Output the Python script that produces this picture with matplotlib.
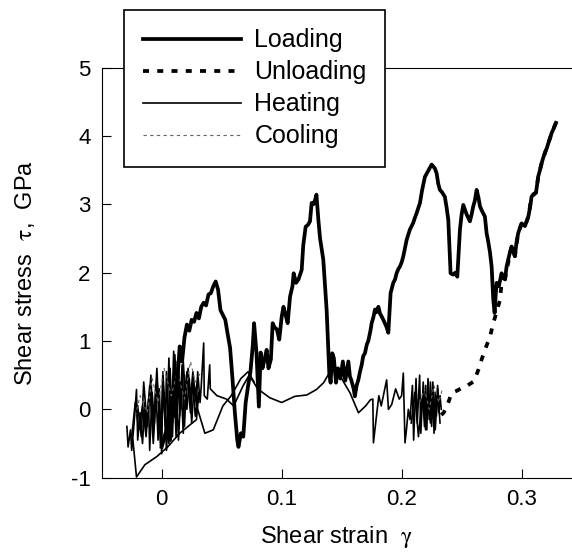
import numpy as np
import matplotlib
matplotlib.use("Agg")
import matplotlib.pyplot as plt

plt.rcParams['font.family'] = ['Liberation Sans', 'DejaVu Sans']
plt.rcParams['mathtext.fontset'] = 'stix'
plt.rcParams['axes.unicode_minus'] = False

# loading branch (thick solid)
load_x = [0.000, 0.004, 0.007, 0.009, 0.011, 0.013, 0.015, 0.017, 0.019, 0.021,
          0.023, 0.025, 0.027, 0.029, 0.031, 0.033, 0.035, 0.037, 0.039, 0.041,
          0.043, 0.045, 0.047, 0.049, 0.051, 0.053, 0.055, 0.057, 0.059, 0.061,
          0.063, 0.064, 0.066, 0.068, 0.070, 0.072, 0.074, 0.076, 0.077, 0.079,
          0.081, 0.0825, 0.084, 0.086, 0.0875, 0.089, 0.091, 0.0925, 0.094, 0.096,
          0.098, 0.100, 0.1015, 0.103, 0.105, 0.107, 0.109, 0.110, 0.112, 0.114,
          0.1167, 0.118, 0.120, 0.122, 0.1236, 0.125, 0.1265, 0.128, 0.129, 0.1306,
          0.132, 0.1347, 0.1375, 0.1397, 0.1408, 0.1422, 0.1435, 0.1453, 0.147, 0.149,
          0.151, 0.153, 0.1556, 0.1569, 0.158, 0.160, 0.161, 0.1625, 0.1639, 0.1653,
          0.1667, 0.168, 0.1694, 0.171, 0.1722, 0.174, 0.175, 0.1765, 0.1778, 0.179,
          0.1806, 0.182, 0.1833, 0.185, 0.186, 0.1875, 0.1889, 0.1908, 0.193, 0.1945,
          0.1958, 0.1972, 0.1986, 0.2, 0.2014, 0.203, 0.2042, 0.2055, 0.2069, 0.2083,
          0.2097, 0.211, 0.2125, 0.214, 0.2153, 0.217, 0.2194, 0.221, 0.2225, 0.224,
          0.225, 0.2265, 0.2278, 0.2292, 0.2305, 0.2319, 0.2335, 0.236, 0.2375, 0.2389,
          0.2398, 0.2408, 0.243, 0.2448, 0.2464, 0.2475, 0.2486, 0.25, 0.2514, 0.2528,
          0.2542, 0.2555, 0.2569, 0.2583, 0.2597, 0.261, 0.2625, 0.264, 0.2653, 0.267,
          0.2694, 0.2708, 0.2722, 0.2736, 0.275, 0.2764, 0.2775, 0.2785, 0.2792, 0.281,
          0.2833, 0.2847, 0.2861, 0.2875, 0.289, 0.2903, 0.2917, 0.293, 0.2944, 0.2958,
          0.2972, 0.2986, 0.3, 0.3014, 0.3028, 0.3042, 0.3056, 0.307, 0.3083, 0.310,
          0.312, 0.313, 0.3139, 0.3153, 0.3167, 0.318, 0.3194, 0.321, 0.3222, 0.3236,
          0.325, 0.327, 0.3286]
load_y = [-0.55, -0.30, -0.45, 0.05, -0.10, 0.40, 0.92, 0.70, 1.05, 1.24,
          1.15, 1.31, 1.28, 1.41, 1.33, 1.50, 1.56, 1.52, 1.68, 1.70,
          1.80, 1.87, 1.75, 1.45, 1.38, 1.31, 1.10, 0.90, 0.45, -0.05,
          -0.45, -0.55, -0.35, -0.40, 0.10, 0.34, 0.55, 0.95, 1.26, 0.83,
          0.04, 0.83, 0.60, 0.75, 0.87, 0.60, 0.73, 1.26, 1.20, 1.17,
          1.02, 1.35, 1.50, 1.40, 1.26, 1.65, 1.80, 1.99, 1.85, 1.90,
          2.04, 2.40, 2.67, 2.70, 2.75, 3.02, 3.00, 3.07, 3.14, 2.77,
          2.50, 2.19, 1.45, 0.53, 0.39, 0.82, 0.75, 0.39, 0.60, 0.45,
          0.70, 0.42, 0.70, 0.48, 0.43, 0.30, 0.19, 0.35, 0.43, 0.55,
          0.65, 0.78, 0.82, 0.95, 1.00, 1.15, 1.26, 1.35, 1.46, 1.42,
          1.50, 1.40, 1.36, 1.30, 1.26, 1.20, 1.12, 1.70, 1.85, 1.90,
          1.99, 2.05, 2.09, 2.15, 2.24, 2.38, 2.48, 2.55, 2.63, 2.68,
          2.73, 2.80, 2.87, 2.95, 3.02, 3.20, 3.40, 3.45, 3.50, 3.55,
          3.58, 3.55, 3.52, 3.45, 3.30, 3.21, 3.18, 3.11, 2.95, 2.77,
          2.40, 1.99, 1.97, 2.00, 1.94, 2.30, 2.63, 2.85, 2.99, 2.92,
          2.85, 2.80, 2.75, 2.85, 2.97, 3.05, 3.21, 3.10, 2.97, 2.90,
          2.82, 2.58, 2.45, 2.30, 2.09, 1.60, 1.41, 1.70, 1.85, 1.80,
          1.99, 1.92, 1.90, 2.09, 2.20, 2.30, 2.38, 2.30, 2.24, 2.45,
          2.58, 2.65, 2.72, 2.70, 2.68, 2.75, 2.82, 2.95, 3.11, 3.15,
          3.17, 3.30, 3.41, 3.50, 3.60, 3.68, 3.75, 3.82, 3.89, 3.96,
          4.04, 4.12, 4.19]

# unloading branch (thick dashed)
unload_x = [0.3286, 0.325, 0.3222, 0.3194, 0.3167, 0.3139, 0.312, 0.3083, 0.3056, 0.3028,
            0.3, 0.2972, 0.2944, 0.2917, 0.2889, 0.2861, 0.2833, 0.282, 0.2764, 0.2736,
            0.2694, 0.2667, 0.264, 0.2603, 0.255, 0.25, 0.2458, 0.2417, 0.2389, 0.2375,
            0.235, 0.232]
unload_y = [4.19, 4.04, 3.89, 3.75, 3.60, 3.41, 3.17, 3.11, 2.82, 2.68,
            2.72, 2.58, 2.24, 2.38, 2.15, 1.90, 1.85, 1.60, 1.26, 1.06,
            0.87, 0.73, 0.58, 0.41, 0.35, 0.31, 0.27, 0.24, 0.10, 0.04,
            -0.05, -0.10]

# heating (thin solid), several pieces
heat1_x = [-0.029, -0.028, -0.026, -0.025, -0.023, -0.021, -0.020, -0.018, -0.016, -0.014,
           -0.013, -0.011, -0.010, -0.008, -0.006, -0.005, -0.003, -0.002, 0.000, 0.001,
           0.003, 0.004, 0.006, 0.007, 0.009, 0.010, 0.012, 0.013, 0.015, 0.016,
           0.018, 0.019, 0.021, 0.023, 0.025, 0.027, 0.029, 0.030, 0.032, 0.033,
           0.035, 0.0355, 0.038, 0.040, 0.0405, 0.046, 0.054, 0.060, 0.068, 0.073,
           0.080, 0.090, 0.100, 0.111, 0.121, 0.129, 0.135, 0.139]
heat1_y = [-0.25, -0.55, -0.30, -0.60, -0.20, 0.29, -0.45, -0.05, -0.50, 0.10,
           -0.30, 0.15, -0.60, 0.25, -0.20, 0.35, -0.45, 0.30, -0.65, 0.45,
           -0.30, 0.55, -0.50, 0.60, -0.20, 0.50, -0.40, 0.70, -0.10, 0.40,
           -0.35, 0.50, 0.00, 0.45, -0.20, 0.35, 0.05, 0.55, 0.10, 0.35,
           0.97, 0.20, 0.15, 0.65, 0.30, 0.20, 0.15, 0.05, 0.35, 0.50,
           0.30, 0.17, 0.10, 0.19, 0.21, 0.29, 0.39, 0.51]
heat2_x = [-0.024, -0.021, -0.014, -0.004, 0.005, 0.015, 0.022, 0.029, 0.031, 0.028,
           0.026, 0.024, 0.021, 0.019, 0.017, 0.014, 0.011, 0.009, 0.007, 0.004,
           0.002, -0.001, -0.004, -0.007, -0.010, -0.013, -0.016, -0.019, -0.022, -0.025]
heat2_y = [-0.45, -0.99, -0.81, -0.69, -0.55, -0.35, -0.25, -0.15, 0.25, -0.10,
           0.40, -0.05, 0.55, -0.25, 0.65, -0.45, 0.80, -0.40, 0.35, -0.60,
           0.25, -0.35, 0.45, -0.50, 0.35, -0.40, 0.05, -0.30, 0.10, -0.40]
heat3_x = [0.030, 0.036, 0.043, 0.051, 0.058, 0.066, 0.072, 0.077]
heat3_y = [0.00, -0.35, -0.30, 0.05, 0.20, 0.45, 0.55, 0.40]
heat4_x = [0.150, 0.157, 0.164, 0.170, 0.174, 0.176, 0.1765, 0.179, 0.181, 0.183,
           0.1875, 0.189, 0.1917, 0.195, 0.198, 0.200, 0.2014, 0.2028, 0.204, 0.2056,
           0.207, 0.209, 0.210, 0.212, 0.213, 0.215, 0.216, 0.218, 0.219, 0.220,
           0.221, 0.222, 0.223, 0.224, 0.225, 0.226, 0.227, 0.228, 0.229, 0.230,
           0.231, 0.232, 0.233]
heat4_y = [0.45, 0.24, -0.05, 0.05, 0.14, 0.15, -0.49, -0.10, 0.20, 0.05,
           0.43, 0.00, 0.07, 0.30, 0.15, 0.20, 0.53, -0.49, -0.30, 0.00,
           -0.15, 0.35, -0.45, 0.45, -0.20, 0.50, -0.35, 0.40, -0.25, 0.35,
           -0.30, 0.30, -0.15, 0.40, -0.25, 0.30, -0.35, 0.25, -0.10, 0.35,
           -0.05, 0.20, 0.00]
heat5_x = [-0.020, -0.017, -0.015, -0.012, -0.009, -0.007, -0.004, -0.001, 0.001, 0.004,
           0.006, 0.008, 0.010, 0.012, 0.014, 0.016, 0.018, 0.020, 0.022, 0.024,
           0.026, 0.028, 0.030]
heat5_y = [0.05, -0.40, 0.40, -0.25, 0.50, -0.35, 0.60, -0.55, 0.55, -0.45,
           0.75, -0.30, 0.85, -0.15, 0.60, 0.00, 0.70, 0.10, 0.60, 0.15,
           0.55, 0.20, 0.45]
heat6_x = [0.208, 0.211, 0.214, 0.217, 0.220, 0.222, 0.224, 0.226, 0.228, 0.230, 0.232]
heat6_y = [-0.20, 0.25, -0.40, 0.15, -0.30, 0.45, -0.20, 0.40, -0.30, 0.30, -0.20]

# cooling (thin dashed grey)
cool1_x = [-0.022, -0.018, -0.012, -0.008, -0.003, 0.002, 0.008, 0.013, 0.019, 0.024, 0.028, 0.033]
cool1_y = [-0.10, 0.20, -0.05, 0.45, 0.10, 0.60, 0.20, 0.55, 0.15, 0.70, 0.40, 0.55]
cool2_x = [0.215, 0.219, 0.223, 0.227, 0.231, 0.234]
cool2_y = [0.10, 0.30, 0.00, 0.35, 0.10, 0.30]

W, H = 572, 552
fig = plt.figure(figsize=(W / 100, H / 100), dpi=100)
ax = fig.add_axes([101.7 / W, 1 - 477.7 / H, 1 - 101.7 / W, (477.7 - 67.5) / H])

thin = dict(color='black', lw=1.2)
ax.plot(heat1_x, heat1_y, label='Heating', **thin)
ax.plot(heat2_x, heat2_y, **thin)
ax.plot(heat3_x, heat3_y, **thin)
ax.plot(heat4_x, heat4_y, **thin)
ax.plot(heat5_x, heat5_y, **thin)
ax.plot(heat6_x, heat6_y, **thin)
ax.plot(cool1_x, cool1_y, color='#666666', lw=0.8, ls=(0, (3, 3)), label='Cooling')
ax.plot(cool2_x, cool2_y, color='#666666', lw=0.8, ls=(0, (3, 3)))
ax.plot(unload_x, unload_y, color='black', lw=2.7, ls=(0, (1.6, 2.2)), label='Unloading')
ax.plot(load_x, load_y, color='black', lw=2.7, label='Loading', solid_joinstyle='round')

ax.set_xlim(-0.05, 0.342)
ax.set_ylim(-1, 5)
ax.set_xticks([0, 0.1, 0.2, 0.3])
ax.set_xticklabels(['0', '0.1', '0.2', '0.3'])
ax.set_yticks([-1, 0, 1, 2, 3, 4, 5])
ax.tick_params(direction='in', length=6.5, width=0.8, labelsize=16, pad=8)
ax.spines['right'].set_visible(False)
for s in ['left', 'bottom', 'top']:
    ax.spines[s].set_linewidth(0.8)

ax.set_xlabel(r'Shear strain  $\mathrm{\gamma}$', fontsize=17, labelpad=10)
ax.set_ylabel(r'Shear stress  $\mathrm{\tau}$,  GPa', fontsize=17, labelpad=24)

h, l = ax.get_legend_handles_labels()
order = ['Loading', 'Unloading', 'Heating', 'Cooling']
hh = [h[l.index(k)] for k in order]
leg = fig.legend(hh, order, loc='upper left', bbox_to_anchor=(124.3 / W, 1 - 9.5 / H),
                 fontsize=18, frameon=True, fancybox=False, borderaxespad=0,
                 handlelength=3.9, handletextpad=0.55, labelspacing=0.32, borderpad=0.75)
leg.get_frame().set_edgecolor('black')
leg.get_frame().set_linewidth(1.2)
leg.get_frame().set_alpha(1)

fig.savefig('out.png', dpi=100)
